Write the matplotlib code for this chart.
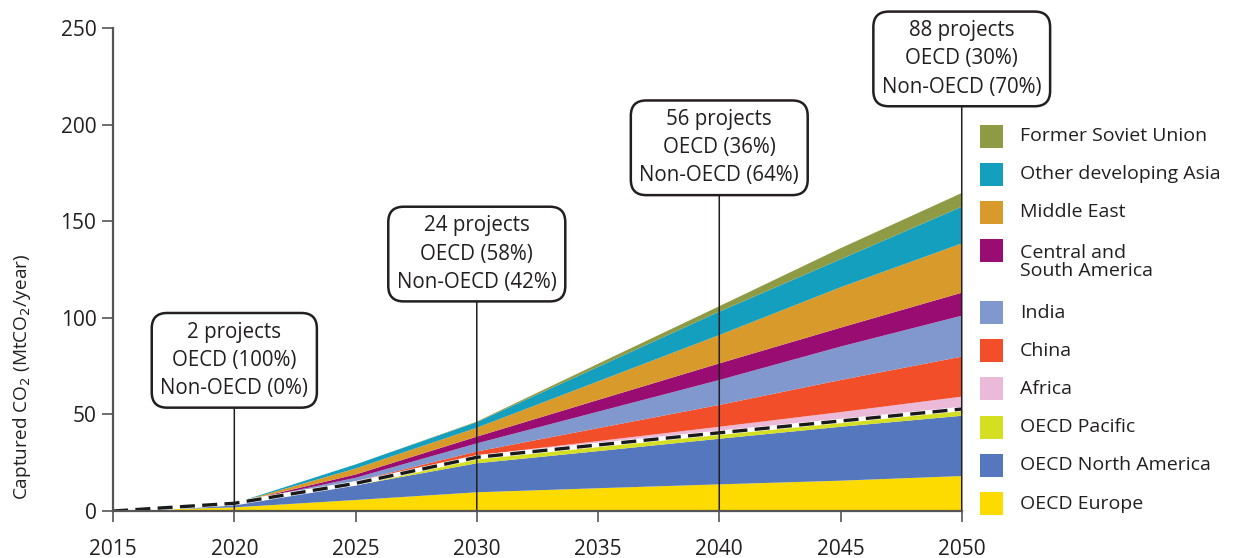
import numpy as np
import matplotlib.pyplot as plt
from matplotlib.patches import Rectangle

plt.rcParams['font.family'] = ['Open Sans', 'DejaVu Sans']

## --------------------------- Data --------------------------------------

years = [2015, 2020, 2025, 2030, 2035, 2040, 2045, 2050]

# stacked from bottom to top (MtCO2/year)
oecd_europe = [0, 1.9, 5.7, 9.7, 11.8, 13.8, 15.7, 18.1]
oecd_north_america = [0, 1.6, 7.6, 15.0, 19.2, 23.6, 27.9, 31.2]
oecd_pacific = [0, 0.5, 1.0, 3.1, 3.2, 3.1, 3.0, 3.5]
africa = [0, 0, 0.3, 1.0, 2.0, 3.1, 4.6, 6.4]
china = [0, 0, 0.8, 2.0, 6.7, 11.3, 16.6, 20.7]
india = [0, 0, 1.8, 4.2, 8.5, 12.9, 17.3, 21.2]
central_south_america = [0, 0, 1.7, 3.5, 6.1, 8.6, 9.8, 11.9]
middle_east = [0, 0, 3.1, 4.6, 9.6, 14.7, 20.9, 25.5]
other_developing_asia = [0, 0, 2.1, 2.9, 7.5, 12.1, 14.5, 19.0]
former_soviet_union = [0, 0, 0, 0.3, 1.6, 2.8, 5.7, 7.1]

regions = ['OECD Europe', 'OECD North America', 'OECD Pacific', 'Africa', 'China',
           'India', 'Central and\nSouth America', 'Middle East',
           'Other developing Asia', 'Former Soviet Union']
colors = ['#fedb00', '#5477bd', '#d5df22', '#ebbad8', '#f24e29',
          '#8098cd', '#990c72', '#d89b2b', '#139fbd', '#8f9a45']

box_years = [2020, 2030, 2040, 2050]
box_y = [78, 133, 188, 234]
box_texts = ['2 projects\nOECD (100%)\nNon-OECD (0%)',
             '24 projects\nOECD (58%)\nNon-OECD (42%)',
             '56 projects\nOECD (36%)\nNon-OECD (64%)',
             '88 projects\nOECD (30%)\nNon-OECD (70%)']

## --------------------------- Plotting --------------------------------------

stack = [oecd_europe, oecd_north_america, oecd_pacific, africa, china, india,
         central_south_america, middle_east, other_developing_asia, former_soviet_union]

fig = plt.figure(figsize=(12.33, 5.58), dpi=100)
ax = fig.add_axes([0.0917, 0.0842, 0.6883, 0.8656])

ax.stackplot(years, *stack, colors=colors, linewidth=0)

oecd_total = np.array(oecd_europe) + np.array(oecd_north_america) + np.array(oecd_pacific)
ax.plot(years, oecd_total, color='white', linewidth=3.2, zorder=3)
ax.plot(years, oecd_total, color='#1a1a1a', linewidth=2.4, dashes=(4.5, 2.2), zorder=4)

for yr, yc, txt in zip(box_years, box_y, box_texts):
    ax.annotate(txt, xy=(yr, 0), xytext=(yr, yc), ha='center', va='center',
                fontsize=14.8, color='#231f20', linespacing=1.45,
                bbox=dict(boxstyle='round,pad=0.42,rounding_size=0.75', fc='white',
                          ec='#231f20', lw=1.8),
                arrowprops=dict(arrowstyle='-', color='#231f20', lw=1.1,
                                shrinkA=0, shrinkB=0),
                annotation_clip=False, zorder=5)

ax.set_xlim(2015, 2050)
ax.set_ylim(0, 250)
ax.set_xticks(range(2015, 2051, 5))
ax.set_yticks(range(0, 251, 50))
for s in ['top', 'right']:
    ax.spines[s].set_visible(False)
for s in ['left', 'bottom']:
    ax.spines[s].set_color('#555555')
    ax.spines[s].set_linewidth(1.6)
    ax.spines[s].set_zorder(6)
ax.tick_params(axis='both', length=8, width=1.2, color='#555555',
               labelsize=15, labelcolor='#231f20')
ax.tick_params(axis='x', pad=12)
ax.tick_params(axis='y', pad=4)
ax.set_ylabel('Captured CO$_2$ (MtCO$_2$/year)', fontsize=13.7, color='#231f20')
ax.yaxis.set_label_coords(-0.094, 0.277)

# legend, top item first
leg_x = 980 / 1233
leg_tx = 1020 / 1233
y_px = 136
for name, col in zip(regions[::-1], colors[::-1]):
    fig.patches.append(Rectangle((leg_x, 1 - (y_px + 11.5) / 558), 23 / 1233, 23 / 558,
                                 transform=fig.transFigure, fc=col, ec='none'))
    if '\n' in name:
        fig.text(leg_tx, 1 - (y_px + 11.5) / 558, name, fontsize=14, color='#231f20',
                 va='center', linespacing=1.05, transform=fig.transFigure)
        y_px += 62
    else:
        fig.text(leg_tx, 1 - y_px / 558, name, fontsize=14, color='#231f20',
                 va='center', transform=fig.transFigure)
        y_px += 38.2

fig.savefig('out.png', dpi=100)
